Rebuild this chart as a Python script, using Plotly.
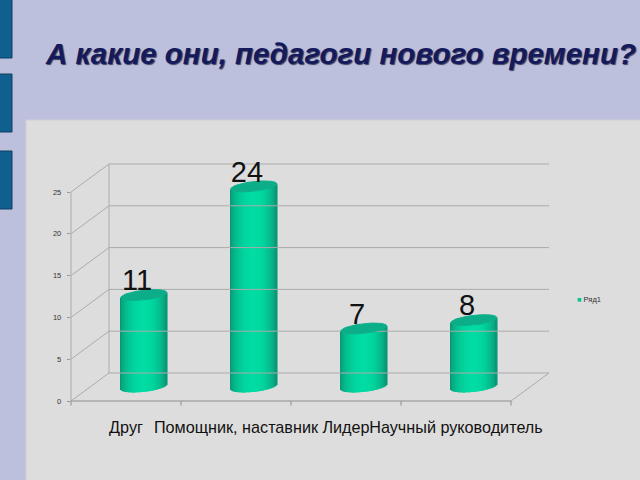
import numpy as np
import plotly.graph_objects as go

title = "А какие они, педагоги нового времени?"
categories = ["Друг", "Помощник, наставник", "Лидер", "Научный руководитель"]
values = [11, 24, 7, 8]
value_ticks = [0, 5, 10, 15, 20, 25]
series_name = "Ряд1"

W, H = 640, 480
# front plane of the fake 3d box, in pixels
X0, STEP = 126, 110
Y0, UNIT = 401, 8.36
DEPTH_X, DEPTH_Y = 38 / STEP, 28 / UNIT
BAR_W = 46 / STEP
TILT, ELL_H = 2.5 / UNIT, 4.8 / UNIT

EDGE = np.array([10, 148, 115])
MID = np.array([0, 220, 163])
N_STRIPS = 47


def paper_rect(x0, y0, x1, y1, fill, line=None):
    return dict(type="rect", xref="paper", yref="paper", layer="below",
                x0=x0 / W, x1=x1 / W, y0=1 - y0 / H, y1=1 - y1 / H,
                fillcolor=fill, line=dict(color=line or fill, width=1))


def add_lines(fig, segments, color, width=1):
    xs, ys = [], []
    for (xa, ya), (xb, yb) in segments:
        xs += [xa, xb, None]
        ys += [ya, yb, None]
    fig.add_trace(go.Scatter(x=xs, y=ys, mode="lines", showlegend=False, hoverinfo="skip",
                             line=dict(color=color, width=width)))


left, right = -0.5, len(categories) - 0.5
fig = go.Figure()

# box: walls, floor and category ticks
grid = []
for v in value_ticks:
    grid.append(((left, v), (left + DEPTH_X, v + DEPTH_Y)))
    grid.append(((left + DEPTH_X, v + DEPTH_Y), (right + DEPTH_X, v + DEPTH_Y)))
grid.append(((left, 0), (left, value_ticks[-1])))
grid.append(((left + DEPTH_X, DEPTH_Y), (left + DEPTH_X, value_ticks[-1] + DEPTH_Y)))
grid.append(((right, 0), (right + DEPTH_X, DEPTH_Y)))
add_lines(fig, grid, "#ababab")
floor = [((left, 0), (right, 0))]
floor += [((left + i, 0), (left + i, -0.55)) for i in range(len(categories) + 1)]
add_lines(fig, floor, "#8f8f8f")

# cylinder bodies as thin vertical strips, shaded edge to centre
us = np.linspace(-0.995, 0.995, N_STRIPS)
strip_x, strip_y, strip_base, strip_col = [], [], [], []
for i, v in enumerate(values):
    for u in us:
        shade = np.cos(u * np.pi / 2) ** 0.6
        c = EDGE + (MID - EDGE) * shade
        strip_x.append(i + DEPTH_X * 0.47 + u * BAR_W / 2)
        strip_y.append(v)
        strip_base.append(DEPTH_Y * 0.5 + TILT * u - ELL_H * np.sqrt(1 - u * u))
        strip_col.append(f"rgb({c[0]:.0f},{c[1]:.0f},{c[2]:.0f})")
fig.add_trace(go.Bar(x=strip_x, y=strip_y, base=strip_base, width=BAR_W / (N_STRIPS - 1) * 1.6,
                     marker=dict(color=strip_col, line=dict(width=0)),
                     showlegend=False, hoverinfo="skip"))

# cylinder caps
t = np.linspace(0, 2 * np.pi, 60)
for i, v in enumerate(values):
    fig.add_trace(go.Scatter(
        x=i + DEPTH_X * 0.47 + np.cos(t) * BAR_W / 2,
        y=v + DEPTH_Y * 0.5 + TILT * np.cos(t) + ELL_H * np.sin(t),
        mode="lines", fill="toself", fillcolor="#0bae88", line=dict(color="#0bae88", width=1),
        showlegend=False, hoverinfo="skip"))

# value labels
fig.add_trace(go.Scatter(
    x=[i + 11 / STEP for i in range(len(values))],
    y=[v + 3.1 for v in values],
    mode="text", text=[str(v) for v in values], textposition="middle center",
    textfont=dict(family="Liberation Sans", size=29, color="#111111"),
    showlegend=False, hoverinfo="skip"))

fig.update_layout(
    width=W, height=H,
    margin=dict(l=0, r=0, t=0, b=0),
    paper_bgcolor="#bcc0dc", plot_bgcolor="rgba(0,0,0,0)",
    barmode="overlay", showlegend=False, hovermode=False,
    title=dict(text=f"<b><i>{title}</i></b>", x=46 / W, xanchor="left", y=1 - 54 / H, yanchor="middle",
               font=dict(family="Liberation Sans", size=29.5, color="#141a5c",
                         shadow="1px 1px 1px #3c3f5f")),
    xaxis=dict(range=[-X0 / STEP, (W - X0) / STEP], domain=[0, 1],
               anchor="free", position=1 - Y0 / H,
               tickmode="array", tickvals=list(range(len(categories))), ticktext=categories,
               ticks="", ticklabelstandoff=15, tickangle=0,
               tickfont=dict(family="Liberation Sans", size=16.2, color="#111111"),
               showgrid=False, zeroline=False, showline=False),
    yaxis=dict(range=[(Y0 - H) / UNIT, Y0 / UNIT], domain=[0, 1],
               anchor="free", position=(X0 - STEP * 0.5) / W - 0.002,
               tickmode="array", tickvals=value_ticks, ticks="outside", ticklen=3, tickcolor="#999999",
               ticklabelstandoff=4,
               tickfont=dict(family="Liberation Sans", size=7.5, color="#333333"),
               showgrid=False, zeroline=False, showline=False),
    shapes=[
        paper_rect(26, 120, 641, 481, "#dddddd", "#d0d0d8"),
        paper_rect(-2, -2, 12, 58, "#10608f", "#0c3f63"),
        paper_rect(-2, 74, 12, 132, "#10608f", "#0c3f63"),
        paper_rect(-2, 151, 12, 209, "#10608f", "#0c3f63"),
    ],
    annotations=[dict(
        xref="paper", yref="paper", x=575 / W, y=1 - 299 / H, xanchor="left", yanchor="middle",
        showarrow=False, text=f'<span style="color:#00c896">■</span> {series_name}',
        font=dict(family="Liberation Sans", size=7.5, color="#333333"),
    )],
)

# page body has a default margin, drop it so the slide fills the window
fig.write_html("out.html", config=dict(displayModeBar=False),
               post_script="document.body.style.margin='0';document.body.style.overflow='hidden';")
